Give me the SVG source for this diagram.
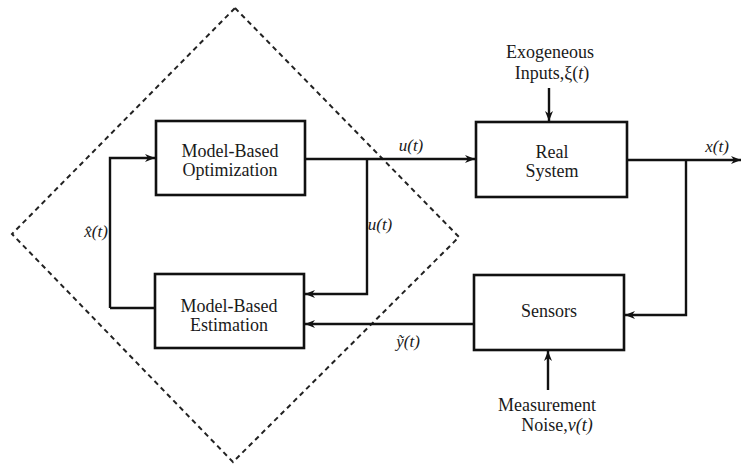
<svg xmlns="http://www.w3.org/2000/svg" width="742" height="466" viewBox="0 0 742 466">
<style>
.box{fill:none;stroke:#111;stroke-width:2.6}
.ln{fill:none;stroke:#111;stroke-width:2.4}
.t{font-family:"Liberation Serif","Times New Roman",serif;font-size:18px;fill:#1a1a1a;text-anchor:middle}
.i{font-family:"Liberation Serif","Times New Roman",serif;font-size:17px;font-style:italic;fill:#1a1a1a;text-anchor:middle}
</style>
<defs>
<marker id="ah" viewBox="0 0 10 8" refX="10" refY="4" markerWidth="10" markerHeight="8" markerUnits="userSpaceOnUse" orient="auto">
<path d="M0,0 L10,4 L0,8 L3,4 Z" fill="#111"/>
</marker>
</defs>
<rect width="742" height="466" fill="#fff"/>
<path d="M235,8 L459,237 L233,462 L12,234 Z" fill="none" stroke="#222" stroke-width="2" stroke-dasharray="5,4"/>
<g id="optimization">
<rect class="box" x="156" y="121" width="149" height="74"/>
<text class="t" x="230" y="157">Model-Based</text>
<text class="t" x="230" y="176">Optimization</text>
</g>
<g id="estimation">
<rect class="box" x="155" y="274" width="149" height="74"/>
<text class="t" x="229" y="312">Model-Based</text>
<text class="t" x="229" y="331">Estimation</text>
</g>
<g id="realsystem">
<rect class="box" x="476" y="122" width="151" height="75"/>
<text class="t" x="552" y="158">Real</text>
<text class="t" x="552" y="177">System</text>
</g>
<g id="sensors">
<rect class="box" x="474" y="275" width="150" height="75"/>
<text class="t" x="549" y="317">Sensors</text>
</g>
<g id="exogenous">
<text class="t" x="550" y="58">Exogeneous</text>
<text class="t" x="552" y="79">Inputs,ξ(<tspan font-style="italic">t</tspan>)</text>
</g>
<g id="noise">
<text class="t" x="547" y="411">Measurement</text>
<text class="t" x="557" y="431">Noise,<tspan font-style="italic">v(t)</tspan></text>
</g>
<g id="connectors">
<path class="ln" d="M110,308 L155,308"/>
<path class="ln" d="M110,308 L110,158 L155,158" marker-end="url(#ah)"/>
<path class="ln" d="M305,159 L475,159" marker-end="url(#ah)"/>
<path class="ln" d="M367,159 L367,294 L305,294" marker-end="url(#ah)"/>
<path class="ln" d="M627,160 L741,160" marker-end="url(#ah)"/>
<path class="ln" d="M686,160 L686,315 L625,315" marker-end="url(#ah)"/>
<path class="ln" d="M474,324 L305,324" marker-end="url(#ah)"/>
<path class="ln" d="M549,88 L549,121" marker-end="url(#ah)"/>
<path class="ln" d="M548,390 L548,351" marker-end="url(#ah)"/>
<text class="i" x="411" y="151">u(t)</text>
<text class="i" x="717" y="152">x(t)</text>
<text class="i" x="380" y="230">u(t)</text>
<text class="i" x="96" y="237">x̂(t)</text>
<text class="i" x="408" y="347">ỹ(t)</text>
</g>
</svg>
